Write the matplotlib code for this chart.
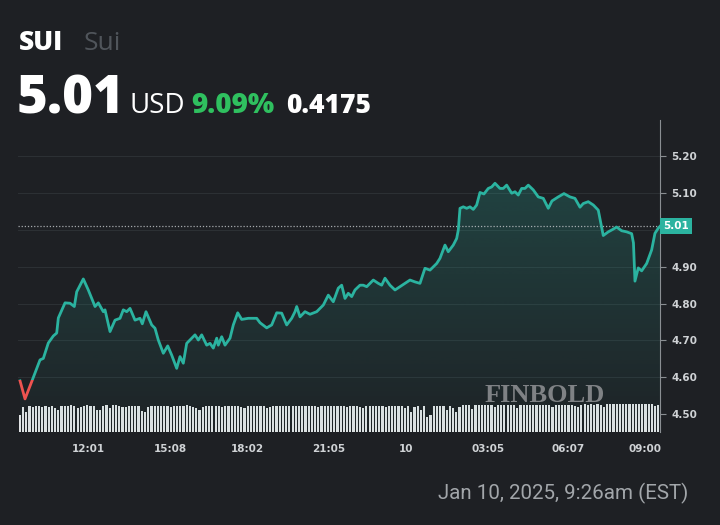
import matplotlib
matplotlib.use('Agg')
import matplotlib.pyplot as plt
import numpy as np
from matplotlib.patches import Rectangle, Polygon

# ---------------- data ----------------
times = [9.456, 9.644, 9.897, 10.209, 10.334, 10.522, 10.710, 10.838, 10.899, 11.151,
         11.339, 11.501, 11.591, 11.840, 12.028, 12.281, 12.405, 12.593, 12.657, 12.846,
         13.034, 13.222, 13.346, 13.474, 13.599, 13.787, 13.975, 14.062, 14.201, 14.416,
         14.540, 14.664, 14.853, 15.019, 15.169, 15.357, 15.482, 15.606, 15.734, 15.858,
         16.047, 16.171, 16.299, 16.487, 16.612, 16.736, 16.864, 16.924, 17.052, 17.176,
         17.365, 17.489, 17.655, 17.805, 18.054, 18.370, 18.495, 18.747, 18.935, 19.124,
         19.312, 19.500, 19.688, 19.813, 19.877, 20.001, 20.189, 20.378, 20.630, 20.879,
         21.067, 21.255, 21.443, 21.571, 21.696, 21.820, 21.948, 22.072, 22.261, 22.385,
         22.513, 22.637, 22.762, 22.950, 23.078, 23.202, 23.390, 23.579, 23.767, 23.955,
         24.143, 24.332, 24.520, 24.708, 24.897, 25.149, 25.273, 25.462, 25.586, 25.774,
         25.902, 25.963, 26.027, 26.151, 26.279, 26.403, 26.528, 26.655, 26.780, 26.930,
         27.092, 27.220, 27.345, 27.533, 27.657, 27.785, 27.974, 28.098, 28.222, 28.350,
         28.474, 28.599, 28.787, 28.975, 29.164, 29.352, 29.491, 29.728, 29.943, 30.169,
         30.357, 30.546, 30.670, 30.858, 31.047, 31.235, 31.423, 31.612, 31.740, 31.928,
         32.116, 32.304, 32.493, 32.560, 32.617, 32.741, 32.869, 33.058, 33.246, 33.370,
         33.495, 33.559]
prices = [4.590, 4.541, 4.588, 4.647, 4.651, 4.693, 4.712, 4.720, 4.761, 4.802,
          4.801, 4.792, 4.832, 4.867, 4.837, 4.792, 4.802, 4.778, 4.783, 4.724,
          4.755, 4.760, 4.783, 4.778, 4.787, 4.755, 4.760, 4.745, 4.778, 4.742,
          4.733, 4.701, 4.665, 4.685, 4.660, 4.624, 4.656, 4.638, 4.692, 4.701,
          4.715, 4.701, 4.715, 4.687, 4.692, 4.679, 4.706, 4.687, 4.710, 4.687,
          4.706, 4.742, 4.775, 4.757, 4.760, 4.760, 4.748, 4.734, 4.742, 4.775,
          4.774, 4.742, 4.760, 4.778, 4.792, 4.764, 4.778, 4.771, 4.778, 4.796,
          4.823, 4.805, 4.842, 4.850, 4.814, 4.828, 4.819, 4.837, 4.850, 4.850,
          4.846, 4.855, 4.864, 4.855, 4.850, 4.869, 4.850, 4.837, 4.846, 4.855,
          4.864, 4.859, 4.855, 4.896, 4.891, 4.909, 4.923, 4.959, 4.941, 4.959,
          4.977, 5.000, 5.059, 5.063, 5.059, 5.063, 5.056, 5.068, 5.102, 5.098,
          5.113, 5.117, 5.127, 5.113, 5.113, 5.122, 5.100, 5.104, 5.095, 5.113,
          5.113, 5.122, 5.109, 5.090, 5.086, 5.059, 5.079, 5.090, 5.099, 5.090,
          5.086, 5.062, 5.072, 5.077, 5.068, 5.054, 4.985, 4.995, 5.000, 5.008,
          4.998, 4.995, 4.990, 4.965, 4.861, 4.897, 4.889, 4.909, 4.946, 4.991,
          5.005, 5.010]
volumes = [62, 88, 70, 92, 90, 93, 91, 90, 92, 89, 93, 86, 80, 92, 94, 93, 95, 94, 85, 88,
           92, 95, 93, 94, 80, 78, 92, 95, 87, 96, 95, 94, 90, 88, 93, 92, 91, 93, 76, 70,
           90, 92, 93, 92, 91, 93, 92, 88, 94, 93, 92, 94, 95, 93, 90, 86, 78, 90, 92, 93,
           94, 93, 92, 88, 92, 93, 94, 92, 93, 90, 85, 92, 94, 93, 92, 94, 93, 86, 88, 93,
           94, 93, 94, 92, 93, 94, 93, 94, 93, 92, 93, 94, 93, 88, 92, 93, 94, 93, 92, 93,
           94, 93, 88, 94, 92, 93, 90, 86, 92, 93, 94, 92, 93, 91, 90, 92, 93, 94, 92, 93,
           85, 93, 70, 90, 92, 78, 92, 55, 60, 92, 93, 94, 92, 78, 94, 85, 70, 90, 96, 97,
           96, 82, 97, 96, 97, 95, 96, 97, 90, 96, 97, 96, 97, 95, 96, 86, 97, 96, 97, 96,
           97, 95, 96, 97, 96, 97, 90, 97, 96, 97, 96, 97, 95, 92, 90, 97, 98, 97, 98, 97,
           98, 97, 88, 99, 100, 99, 100, 99, 100, 98, 100, 99, 100, 99, 100, 100, 99, 100, 92, 95]
vol_first, vol_last = 9.45, 33.50

ytick_vals = [4.50, 4.60, 4.70, 4.80, 4.90, 5.10, 5.20]
grid_vals = [4.60, 4.70, 4.80, 4.90, 5.00, 5.10, 5.20]
xtick_pos = [12.017, 15.133, 18.033, 21.083, 24.0, 27.083, 30.117, 33.0]
xtick_labels = ['12:01', '15:08', '18:02', '21:05', '10', '03:05', '06:07', '09:00']
prev_close = 4.5925
last_price = 5.01

# ---------------- style ----------------
BG = '#1e2024'
TEAL = '#2bb3a0'
RED = '#ef5350'
GREEN = '#2fc05f'
XMIN, XMAX = 9.38, 33.56
YMIN, YMAX = 4.451, 5.299

fig = plt.figure(figsize=(7.2, 5.25), dpi=100)
fig.patch.set_facecolor(BG)

ax = fig.add_axes([18/720, 1-432/525, (660-18)/720, (432-120)/525])
ax.set_facecolor(BG)

# volume bars (twin axes, created first so the price axis keeps its right ticks)
ax2 = ax.twinx()
vx = np.linspace(vol_first, vol_last, len(volumes))
ax2.bar(vx, volumes, width=(vx[1]-vx[0])*0.68, color='#e0e2e4', edgecolor='none', zorder=2)
ax2.set_ylim(0, 100/0.09)
ax2.set_xlim(XMIN, XMAX)
ax2.set_yticks([])
for s in ax2.spines.values():
    s.set_visible(False)

ax.set_xlim(XMIN, XMAX)
ax.set_ylim(YMIN, YMAX)

# grid
for g in grid_vals:
    ax.axhline(g, color='#2c3034', lw=0.8, zorder=0)

# gradient fill under the line
t = np.asarray(times); p = np.asarray(prices)
verts = np.column_stack([np.r_[t[0], t, t[-1]], np.r_[YMIN, p, YMIN]])
poly = Polygon(verts, closed=True, facecolor='none', edgecolor='none')
ax.add_patch(poly)
grad = np.zeros((256, 1, 4))
grad[..., 0] = 43/255; grad[..., 1] = 179/255; grad[..., 2] = 160/255
grad[:, 0, 3] = np.linspace(0.24, 0.02, 256)
im = ax.imshow(grad, extent=[XMIN, XMAX, YMIN, 5.14], aspect='auto',
               origin='upper', zorder=1, interpolation='bilinear')
im.set_clip_path(poly)
ax.set_xlim(XMIN, XMAX)
ax.set_ylim(YMIN, YMAX)

# price line split at previous close
above = Rectangle((XMIN, prev_close), XMAX-XMIN, YMAX-prev_close, transform=ax.transData)
below = Rectangle((XMIN, YMIN), XMAX-XMIN, prev_close-YMIN, transform=ax.transData)
l1, = ax.plot(times, prices, color=TEAL, lw=2.0, zorder=4, solid_joinstyle='round')
l1.set_clip_path(above)
l2, = ax.plot(times, prices, color=RED, lw=2.0, zorder=4, solid_joinstyle='round')
l2.set_clip_path(below)

# last price dotted line
ax.axhline(last_price, color='#c8cccf', lw=0.9, ls=(0, (1, 1.5)), alpha=0.8, zorder=3)

# axes styling
for s in ['top', 'left', 'bottom']:
    ax.spines[s].set_visible(False)
ax.spines['right'].set_visible(True)
ax.spines['right'].set_color('#8a8e92')
ax.spines['right'].set_linewidth(0.8)
ax.yaxis.tick_right()
ax.set_yticks(ytick_vals)
ax.set_yticklabels([f'{v:.2f}' for v in ytick_vals])
ax.tick_params(axis='y', which='both', left=False, labelleft=False, right=True,
               labelright=True, colors='#8a8e92', length=4, width=0.8, pad=4,
               labelcolor='#cfd2d5', labelsize=7.5)
for lab in ax.get_yticklabels():
    lab.set_fontweight('bold')
ax.set_xticks(xtick_pos)
ax.set_xticklabels(xtick_labels)
ax.tick_params(axis='x', length=0, pad=9, labelcolor='#cfd2d5', labelsize=7.5)
for lab in ax.get_xticklabels():
    lab.set_fontweight('bold')
ax.set_zorder(ax2.get_zorder() + 1)
ax.patch.set_visible(False)

# last price label box
ax.text(1.0045, last_price, '5.01', transform=ax.get_yaxis_transform(),
        ha='left', va='center', fontsize=7.5, fontweight='bold', color='white',
        bbox=dict(boxstyle='square,pad=0.3', fc=TEAL, ec='none'), zorder=6,
        clip_on=False)

# watermark
fig.text(545/720, 1-402/525, 'FINBOLD', ha='center', va='baseline',
         fontsize=19, fontweight='bold', family='Liberation Serif',
         color='#8b8d90', alpha=0.9)

# header texts
def ftext(x, y, s, **kw):
    fig.text(x/720, 1-y/525, s, ha='left', va='baseline', **kw)

ftext(19, 50, 'SUI', fontsize=19, fontweight='heavy', color='white', family='Open Sans')
ftext(84, 50, 'Sui', fontsize=19, color='#50555b', family='Open Sans')
ftext(17, 113, '5.01', fontsize=38, fontweight='heavy', color='white', family='Open Sans')
ftext(130, 113, 'USD', fontsize=20, color='white', family='Open Sans')
ftext(191, 113, '9.09%', fontsize=20, fontweight='heavy', color=GREEN, family='Open Sans')
ftext(286, 113, '0.4175', fontsize=19, fontweight='heavy', color='white', family='Open Sans')
ftext(438, 499, 'Jan 10, 2025, 9:26am (EST)', fontsize=14.8, color='#a2a6aa', family='Roboto')

fig.savefig('out.png', dpi=100, facecolor=BG)
